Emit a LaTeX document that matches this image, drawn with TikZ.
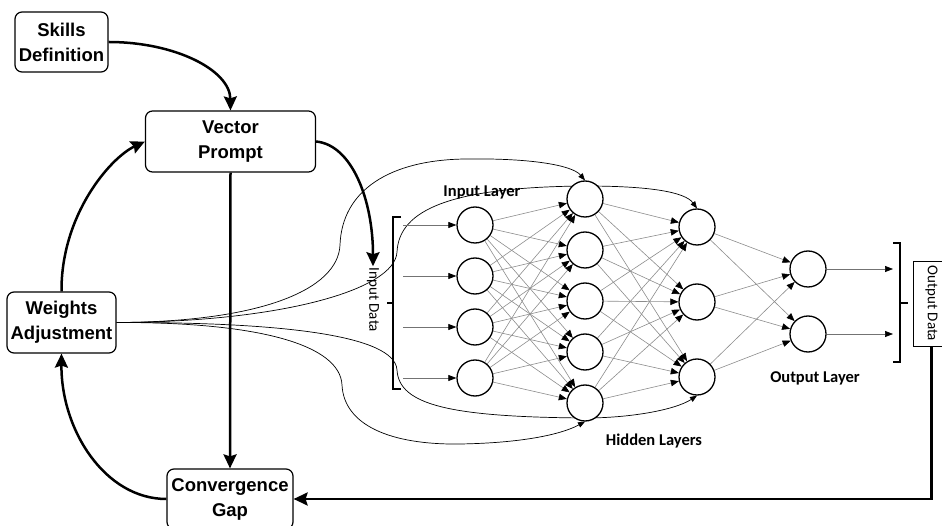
\documentclass[tikz,border=0pt]{standalone}
\usepackage{fontspec}
\setmainfont{Liberation Sans}
\newfontfamily\labelfont{Carlito}
\usetikzlibrary{arrows.meta}
\pgfdeclarelayer{back}
\pgfsetlayers{back,main}
\begin{document}
\begin{tikzpicture}[x=1pt,y=-1pt,
  flowbox/.style={draw, line width=1.2pt, rounded corners=7pt, fill=white, align=center,
    font=\fontsize{18.5}{25}\selectfont\bfseries, inner sep=0pt},
  flow/.style={line width=2.5pt, -{Stealth[length=14pt,width=13pt,inset=2pt]}},
  neuron/.style={circle, draw, line width=1.3pt, fill=white, minimum size=36pt, inner sep=0pt},
  mesh/.style={draw=black!45, line width=0.6pt, -{Triangle[length=8pt,width=6.5pt,color=black]}},
  feed/.style={draw=black!55, line width=0.7pt, -{Triangle[length=8pt,width=6pt,color=black]}},
  wire/.style={line width=0.7pt, -{Triangle[length=7pt,width=5.5pt]}},
  layerlabel/.style={font=\labelfont\fontsize{16.5}{18}\selectfont\bfseries, inner sep=1pt},
  datalabel/.style={font=\labelfont\fontsize{15}{16}\selectfont, rotate=-90, inner sep=1.5pt},
  bracket/.style={line width=1.2pt},
]
\useasboundingbox (0,0) rectangle (942,526);

% process boxes
\node[flowbox, minimum width=93pt, minimum height=60pt] (sd) at (61.5,42) {Skills\\Definition};
\node[flowbox, minimum width=170pt, minimum height=61pt] (vp) at (230.5,141.5) {Vector\\Prompt};
\node[flowbox, minimum width=109pt, minimum height=61pt] (wa) at (61.5,322.5) {Weights\\Adjustment};
\node[flowbox, minimum width=126pt, minimum height=60pt] (cg) at (230,499) {Convergence\\Gap};

% network neurons
\foreach \i/\y in {1/225,2/276,3/327,4/378} \node[neuron] (in\i) at (475,\y) {};
\foreach \i/\y in {1/199,2/250,3/301,4/352,5/403} \node[neuron] (ha\i) at (585,\y) {};
\foreach \i/\y in {1/227,2/302,3/377} \node[neuron] (hb\i) at (697,\y) {};
\foreach \i/\y in {1/269,2/334} \node[neuron] (out\i) at (808,\y) {};

% labels
\node[layerlabel] (lin) at (482,192) {Input Layer};
\node[layerlabel] (lhid) at (654,441) {Hidden Layers};
\node[layerlabel] (lout) at (815,378) {Output Layer};
\node[datalabel] (idata) at (373,300) {Input Data};
\node[datalabel, draw, line width=0.8pt, minimum width=85pt, minimum height=37pt]
  (odata) at (931.5,303.5) {Output Data};

% brackets
\draw[bracket] (401,217) -- (393,217) -- (393,389) -- (401,389);
\draw[bracket] (393,303) -- (387,303);
\draw[bracket] (893,243) -- (900,243) -- (900,362) -- (893,362);
\draw[bracket] (900,303) -- (908,303);

\begin{pgfonlayer}{back}
  % fully connected layers
  \foreach \a in {1,...,4} \foreach \b in {1,...,5} \draw[mesh] (in\a) -- (ha\b);
  \foreach \a in {1,...,5} \foreach \b in {1,...,3} \draw[mesh] (ha\a) -- (hb\b);
  \foreach \a in {1,...,3} \foreach \b in {1,2} \draw[mesh] (hb\a) -- (out\b);
  % weight updates fed into the network
  \draw[wire] (wa.east) .. controls (260,322) and (338,290) .. (340,245)
    .. controls (342,190) and (390,160) .. (465,159)
    .. controls (530,158) and (572,165) .. (ha1.north);
  \draw[wire] (wa.east) .. controls (280,322) and (395,290) .. (397,252)
    .. controls (399,210) and (450,187) .. (585,186)
    .. controls (650,186) and (685,192) .. (hb1.north);
  \draw[wire] (wa.east) .. controls (280,322) and (395,335) .. (397,370)
    .. controls (399,405) and (450,417) .. (585,418)
    .. controls (630,418) and (675,410) .. (hb3.south);
  \draw[wire] (wa.east) .. controls (260,322) and (340,345) .. (342,385)
    .. controls (344,425) and (390,445) .. (460,444)
    .. controls (520,443) and (560,435) .. (ha5.south);
\end{pgfonlayer}

% input and output signals
\foreach \i/\y in {1/225,2/276,3/327,4/378} {
  \coordinate (src\i) at (403,\y);
  \draw[feed] (src\i) -- (in\i);
}
\foreach \i/\y in {1/269,2/334} {
  \coordinate (dst\i) at (893,\y);
  \draw[feed] (out\i) -- (dst\i);
}

% main loop
\draw[flow] (sd.east) .. controls (175,42) and (230,70) .. (vp.north);
\draw[flow] (wa.north) .. controls (61,215) and (110,158) .. (vp.west);
\draw[flow] (vp.south) -- (cg.north);
\draw[flow] (cg.west) .. controls (105,499) and (61,430) .. (wa.south);
\draw[flow] (vp.east) .. controls (352,145) and (373,200) .. (idata.west);
\draw[flow] (odata.east) |- (cg.east);
\end{tikzpicture}
\end{document}
